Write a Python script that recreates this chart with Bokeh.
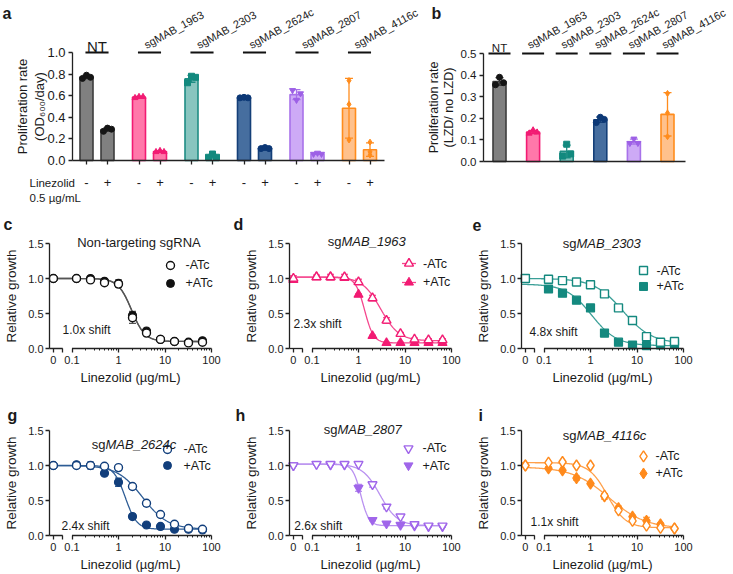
import numpy as np
from bokeh.plotting import figure
from bokeh.models import Range1d, FixedTicker, Label, Arrow, PrintfTickFormatter, LinearAxis
from bokeh.layouts import column, row
from bokeh.embed import file_html
from bokeh.resources import INLINE
from bokeh.core.properties import value

S = 1.0
FONT = "Liberation Sans"
AXC = "#222222"
TXC = "#1a1a1a"


def P(v):
    return int(round(v * S))


def F(v):
    return f"{v * S:.1f}px"


# ------------------------------------------------------------------ data (a, b)
genes = ["NT", "sgMAB_1963", "sgMAB_2303", "sgMAB_2624c", "sgMAB_2807", "sgMAB_4116c"]
lzd_labels = ["-", "+"]
rate_no_lzd = [[0.76, 0.79, 0.77], [0.58, 0.59, 0.59], [0.72, 0.78, 0.77],
               [0.58, 0.585, 0.58], [0.65, 0.56, 0.62], [0.74, 0.52, 0.19]]
rate_lzd = [[0.27, 0.30, 0.29], [0.08, 0.09, 0.08], [0.03, 0.06, 0.03],
            [0.11, 0.12, 0.11], [0.06, 0.07, 0.06], [0.17, 0.05, 0.08]]
rate_ratio = [[0.355, 0.39, 0.365], [0.13, 0.145, 0.135], [0.025, 0.08, 0.035],
              [0.18, 0.205, 0.195], [0.085, 0.105, 0.085], [0.315, 0.225, 0.115]]
a_yticks = [0.0, 0.2, 0.4, 0.6, 0.8, 1.0]
b_yticks = [0.0, 0.1, 0.2, 0.3, 0.4, 0.5]

# ------------------------------------------------------------------ data (c-i)
conc = [0, 0.125, 0.25, 0.5, 1, 2, 4, 8, 16, 32, 64]
x_tick_labels = ["0", "0.1", "1", "10", "100"]
dose_yticks = [0.0, 0.5, 1.0, 1.5]
legend_labels = ["-ATc", "+ATc"]

nt_minus = [1.00, 1.00, 0.98, 0.94, 0.92, 0.44, 0.22, 0.13, 0.10, 0.08, 0.09]
nt_minus_sd = [0.01, 0.01, 0.01, 0.01, 0.03, 0.08, 0.02, 0.01, 0.01, 0.01, 0.01]
nt_plus = [1.00, 1.00, 1.00, 0.96, 0.93, 0.47, 0.25, 0.13, 0.10, 0.09, 0.11]
nt_plus_sd = [0.01, 0.01, 0.01, 0.01, 0.05, 0.06, 0.02, 0.01, 0.01, 0.01, 0.01]
nt_fit_minus = [1.00, 0.10, 1.90, 3.0]
nt_fit_plus = [1.00, 0.10, 1.92, 3.0]

g1963_minus = [1.00, 1.02, 1.02, 1.02, 0.95, 0.72, 0.40, 0.21, 0.13, 0.12, 0.12]
g1963_minus_sd = [0.04, 0.03, 0.04, 0.04, 0.04, 0.04, 0.04, 0.02, 0.02, 0.02, 0.02]
g1963_plus = [0.98, 1.02, 1.02, 1.01, 0.77, 0.18, 0.08, 0.08, 0.08, 0.08, 0.08]
g1963_plus_sd = [0.02, 0.01, 0.01, 0.01, 0.01, 0.01, 0.01, 0.01, 0.01, 0.01, 0.01]
g1963_fit_minus = [1.02, 0.11, 3.0, 2.2]
g1963_fit_plus = [1.02, 0.08, 1.35, 4.5]

g2303_minus = [1.00, 0.99, 0.97, 0.95, 0.91, 0.78, 0.58, 0.40, 0.17, 0.09, 0.10]
g2303_minus_sd = [0.01, 0.01, 0.01, 0.01, 0.01, 0.01, 0.01, 0.01, 0.01, 0.01, 0.01]
g2303_plus = [1.00, 0.85, 0.79, 0.69, 0.58, 0.22, 0.09, 0.05, 0.04, 0.05, 0.07]
g2303_plus_sd = [0.01, 0.01, 0.01, 0.01, 0.01, 0.01, 0.01, 0.01, 0.01, 0.01, 0.01]
g2303_fit_minus = [1.00, 0.07, 5.0, 1.4]
g2303_fit_plus = [0.92, 0.04, 1.05, 1.6]

g2624_minus = [1.00, 1.00, 1.00, 0.99, 0.97, 0.70, 0.46, 0.30, 0.16, 0.10, 0.09]
g2624_minus_sd = [0.01, 0.01, 0.05, 0.01, 0.03, 0.04, 0.04, 0.01, 0.01, 0.01, 0.01]
g2624_plus = [1.00, 1.01, 1.00, 0.89, 0.76, 0.27, 0.15, 0.13, 0.09, 0.09, 0.08]
g2624_plus_sd = [0.01, 0.02, 0.02, 0.01, 0.06, 0.01, 0.01, 0.01, 0.01, 0.01, 0.01]
g2624_fit_minus = [1.00, 0.09, 3.3, 1.6]
g2624_fit_plus = [1.00, 0.09, 1.4, 3.5]

g2807_minus = [1.00, 1.02, 1.02, 1.02, 1.02, 0.73, 0.41, 0.27, 0.16, 0.14, 0.14]
g2807_minus_sd = [0.01, 0.01, 0.01, 0.01, 0.01, 0.04, 0.03, 0.01, 0.01, 0.01, 0.01]
g2807_plus = [1.00, 1.02, 1.01, 1.01, 0.68, 0.22, 0.17, 0.15, 0.14, 0.13, 0.13]
g2807_plus_sd = [0.01, 0.01, 0.01, 0.01, 0.05, 0.01, 0.01, 0.01, 0.01, 0.01, 0.01]
g2807_fit_minus = [1.02, 0.14, 2.9, 2.3]
g2807_fit_plus = [1.02, 0.14, 1.12, 5.0]

g4116_minus = [1.00, 1.04, 1.05, 1.00, 1.00, 0.57, 0.36, 0.21, 0.14, 0.11, 0.10]
g4116_minus_sd = [0.01, 0.01, 0.01, 0.01, 0.01, 0.03, 0.02, 0.01, 0.01, 0.01, 0.01]
g4116_plus = [1.00, 0.96, 0.93, 0.82, 0.74, 0.56, 0.39, 0.27, 0.21, 0.16, 0.10]
g4116_plus_sd = [0.01, 0.02, 0.01, 0.03, 0.01, 0.04, 0.03, 0.02, 0.05, 0.02, 0.02]
g4116_fit_minus = [1.04, 0.11, 2.3, 2.2]
g4116_fit_plus = [0.98, 0.10, 2.5, 1.1]

panel_titles = [("Non-targeting sgRNA", ""), ("sg", "MAB_1963"), ("sg", "MAB_2303"),
                ("sg", "MAB_2624c"), ("sg", "MAB_2807"), ("sg", "MAB_4116c")]
shift_labels = ["1.0x shift", "2.3x shift", "4.8x shift", "2.4x shift", "2.6x shift", "1.1x shift"]
panel_letters = ["c", "d", "e", "g", "h", "i"]

# ------------------------------------------------------------------ styles
bar_fill = ["#808080", "#ff78aa", "#88c5bf", "#466e9f", "#cdaaf6", "#ffc18c"]
bar_line = ["#3c3c3c", "#f21b73", "#1e8d84", "#143f78", "#a872ea", "#ff8c1c"]
pt_color = ["#151515", "#f21b73", "#12897e", "#0c3876", "#9d60e6", "#ff8c1c"]
pt_marker = ["circle", "triangle", "square", "circle", "inverted_triangle", "diamond"]
jitter_on = [1, 1, 1, 1, 1, 0]
ROT = 0.50


def make_fig(w, h, xr, yr):
    p = figure(width=P(w), height=P(h), x_range=Range1d(*xr), y_range=Range1d(*yr),
               x_axis_location=None, y_axis_location=None,
               output_backend="svg", toolbar_location=None, tools="")
    p.min_border = 0
    p.min_border_left = 0
    p.min_border_right = 0
    p.min_border_top = 0
    p.min_border_bottom = 0
    p.grid.visible = False
    p.outline_line_color = None
    p.background_fill_color = "white"
    p.border_fill_color = "white"
    return p


def add_axis(p, side, loc, bounds, ticks, tick_font, minor=None, fmt=None):
    ax = LinearAxis(fixed_location=loc, bounds=bounds)
    ax.ticker = FixedTicker(ticks=ticks, minor_ticks=minor or [])
    if fmt is not None:
        ax.formatter = PrintfTickFormatter(format=fmt)
    ax.axis_line_color = AXC
    ax.axis_line_width = 1.3 * S
    ax.major_tick_line_color = AXC
    ax.major_tick_line_width = 1.3 * S
    ax.minor_tick_line_color = AXC
    ax.minor_tick_line_width = 1.0 * S
    ax.major_tick_in = 0
    ax.major_tick_out = P(4)
    ax.minor_tick_in = 0
    ax.minor_tick_out = P(2.5)
    ax.major_label_text_font = FONT
    ax.major_label_text_font_size = tick_font
    ax.major_label_text_color = TXC
    ax.axis_label_text_font = FONT
    ax.axis_label_text_font_style = "normal"
    ax.axis_label_text_color = TXC
    p.add_layout(ax, side)
    return ax


def lab(p, x, y, text, size, **kw):
    p.add_layout(Label(x=x, y=y, text=text, text_font=FONT, text_font_size=F(size),
                       text_color=kw.pop("color", TXC), **kw))


def hline(p, x0, x1, y, color=AXC, width=1.3):
    p.add_layout(Arrow(end=None, x_start=x0, y_start=y, x_end=x1, y_end=y,
                       line_color=color, line_width=width * S))


def bars(p, xs, reps, i, unit, cap_px=4.0, jit_px=4.0, msize=6):
    m = float(np.mean(reps))
    sd = float(np.std(reps, ddof=1))
    cw = cap_px / unit
    p.vbar(x=[xs], top=[m], width=13.0 / unit, fill_color=bar_fill[i],
           line_color=bar_line[i], line_width=1.6 * S)
    p.segment(x0=[xs, xs - cw, xs - cw], y0=[m - sd, m + sd, m - sd],
              x1=[xs, xs + cw, xs + cw], y1=[m + sd, m + sd, m - sd],
              line_color=bar_line[i], line_width=1.3 * S)
    j = jit_px / unit * jitter_on[i]
    p.scatter(x=[xs - j, xs, xs + j], y=reps, marker=pt_marker[i], size=msize * S,
              fill_color=pt_color[i], line_color=pt_color[i])


# ------------------------------------------------------------------ panel a
UA = 21.0
GA = 2.5
xa_minus = [i * GA for i in range(6)]
xa_plus = [i * GA + 1.0 for i in range(6)]


def xa_px(px):
    return (px - 86.0) / UA


def ya_px(py):
    return (160.0 - py) / 108.0


WA = 426
pa = make_fig(WA, 212, (xa_px(0), xa_px(WA)), (ya_px(212), ya_px(0)))
ax = add_axis(pa, "below", 0.0, (xa_px(72), xa_px(384)), sorted(xa_minus + xa_plus), F(13))
ov = {x: lzd_labels[0] for x in xa_minus}
ov.update({x: lzd_labels[1] for x in xa_plus})
ax.major_label_overrides = ov
ax.major_label_standoff = P(13)
ay = add_axis(pa, "left", xa_px(72), (0.0, 1.0), a_yticks, F(13), fmt="%.1f")
ay.major_label_standoff = P(3)

for i in range(6):
    bars(pa, xa_minus[i], rate_no_lzd[i], i, UA)
    bars(pa, xa_plus[i], rate_lzd[i], i, UA)
    c = i * GA + 0.5
    hline(pa, c - 0.55, c + 0.55, 1.0, color="#111111", width=2.0)
    if i == 0:
        lab(pa, c, 1.0, genes[i], 15, y_offset=P(6), text_align="center", text_baseline="alphabetic")
    else:
        lab(pa, c - 0.22, 1.0, genes[i], 11, y_offset=P(7), angle=ROT,
            text_align="left", text_baseline="alphabetic")

lab(pa, xa_px(29), ya_px(182), "Linezolid", 11.5, text_align="left", text_baseline="alphabetic")
lab(pa, xa_px(29), ya_px(197), "0.5 \u00b5g/mL", 11.5, text_align="left", text_baseline="alphabetic")
lab(pa, xa_px(22), 0.5, "Proliferation rate", 13, angle=np.pi / 2, text_align="center", text_baseline="middle")
lab(pa, xa_px(38.5), 0.5, "(OD\u2086\u2080\u2080/day)", 13, angle=np.pi / 2, text_align="center", text_baseline="middle")
lab(pa, xa_px(2), ya_px(13), "a", 16, text_font_style="bold", text_align="left", text_baseline="alphabetic")

# ------------------------------------------------------------------ panel b
UB = 33.6


def xb_px(px):
    return (px - 499.0) / UB


def yb_px(py):
    return (161.0 - py) / 216.0


pb = make_fig(733 - WA, 212, (xb_px(WA), xb_px(733)), (yb_px(212), yb_px(0)))
bx = add_axis(pb, "below", 0.0, (xb_px(483), xb_px(685)), [], F(11.5))
by = add_axis(pb, "left", xb_px(483), (0.0, 0.5), b_yticks, F(11.5), fmt="%.1f")
by.major_label_standoff = P(3)

for i in range(6):
    bars(pb, float(i), rate_ratio[i], i, UB)
    hline(pb, i - 11 / UB, i + 11 / UB, 0.5, color="#111111", width=2.0)
    if i == 0:
        lab(pb, float(i), 0.5, genes[i], 11.5, y_offset=P(6), text_align="center", text_baseline="alphabetic")
    else:
        lab(pb, i - 5 / UB, 0.5, genes[i], 11, y_offset=P(8), angle=ROT,
            text_align="left", text_baseline="alphabetic")

lab(pb, xb_px(433), 0.25, "Proliferation rate", 12.5, angle=np.pi / 2, text_align="center", text_baseline="middle")
lab(pb, xb_px(448), 0.25, "(LZD/ no LZD)", 12.5, angle=np.pi / 2, text_align="center", text_baseline="middle")
lab(pb, xb_px(431), yb_px(13), "b", 16, text_font_style="bold", text_align="left", text_baseline="alphabetic")

# ------------------------------------------------------------------ dose panels
DEC = 46.5
YU = 70.0
X0 = -1.0 - 22.5 / DEC
ZERO_POS = -1.40
ZERO_END = -1.20
MINOR = [float(np.log10(k * 10.0 ** d)) for d in (-1, 0, 1) for k in range(2, 10)]


def four_pl(params, c):
    top, bot, ic50, hill = params
    return bot + (top - bot) / (1.0 + (c / ic50) ** hill)


dose_sets = [
    (nt_minus, nt_minus_sd, nt_plus, nt_plus_sd, nt_fit_minus, nt_fit_plus),
    (g1963_minus, g1963_minus_sd, g1963_plus, g1963_plus_sd, g1963_fit_minus, g1963_fit_plus),
    (g2303_minus, g2303_minus_sd, g2303_plus, g2303_plus_sd, g2303_fit_minus, g2303_fit_plus),
    (g2624_minus, g2624_minus_sd, g2624_plus, g2624_plus_sd, g2624_fit_minus, g2624_fit_plus),
    (g2807_minus, g2807_minus_sd, g2807_plus, g2807_plus_sd, g2807_fit_minus, g2807_fit_plus),
    (g4116_minus, g4116_minus_sd, g4116_plus, g4116_plus_sd, g4116_fit_minus, g4116_fit_plus),
]
dose_style = [
    dict(marker="circle", color="#111111", curve="#555555", size=8),
    dict(marker="triangle", color="#f21b73", curve="#f5468d", size=9),
    dict(marker="square", color="#14897f", curve="#3a9f97", size=8),
    dict(marker="circle", color="#123f7c", curve="#2d5c95", size=8),
    dict(marker="inverted_triangle", color="#a066ea", curve="#b991f0", size=9),
    dict(marker="diamond", color="#ff8a1c", curve="#ffa04a", size=11),
]
# canvas (w, h), axis offsets (left px, top px), letter dx px / y, title x / y, legend (x, y1, y2), gap px, line, shift (x, y)
dose_layout = [
    dict(size=(230, 181), off=(49, 31), ldx=46, ly=1.77, tx=0.441, ty=1.514, leg=(1.118, 1.186, 0.929), gap=15, line=False, sh=(-1.204, 0.27)),
    dict(size=(240, 181), off=(59, 31), ldx=56, ly=1.77, tx=-0.366, ty=1.529, leg=(1.086, 1.214, 0.943), gap=14, line=True, sh=(-1.398, 0.35)),
    dict(size=(263, 181), off=(51, 31), ldx=49, ly=1.77, tx=-0.301, ty=1.500, leg=(1.140, 1.114, 0.886), gap=13, line=False, sh=(-1.312, 0.24)),
    dict(size=(230, 180), off=(49, 37), ldx=42, ly=1.714, tx=-0.280, ty=1.300, leg=(1.054, 1.229, 1.000), gap=16, line=False, sh=(-1.226, 0.14)),
    dict(size=(240, 180), off=(59, 37), ldx=54, ly=1.714, tx=-0.452, ty=1.514, leg=(1.075, 1.243, 1.000), gap=14, line=False, sh=(-1.380, 0.14)),
    dict(size=(263, 180), off=(51, 37), ldx=43, ly=1.714, tx=-0.301, ty=1.429, leg=(1.140, 1.129, 0.886), gap=12, line=False, sh=(-1.290, 0.19)),
]


def dose_panel(k):
    minus, minus_sd, plus, plus_sd, fit_m, fit_p = dose_sets[k]
    st = dose_style[k]
    lay = dose_layout[k]
    w, h = lay["size"]
    lo, to = lay["off"]
    xr = (X0 - lo / DEC, X0 + (w - lo) / DEC)
    yr = (1.5 - (h - to) / YU, 1.5 + to / YU)
    p = make_fig(w, h, xr, yr)

    xa = add_axis(p, "below", 0.0, (X0, 2.0), [ZERO_POS, ZERO_END, -1, 0, 1, 2], F(11), minor=MINOR)
    xa.major_label_overrides = {ZERO_POS: x_tick_labels[0], ZERO_END: "", -1: x_tick_labels[1],
                                0: x_tick_labels[2], 1: x_tick_labels[3], 2: x_tick_labels[4]}
    xa.axis_line_color = None
    xa.axis_label = "Linezolid (\u00b5g/mL)"
    xa.axis_label_text_font_size = F(13)
    xa.major_label_standoff = P(3)
    xa.axis_label_standoff = P(3)
    ya = add_axis(p, "left", X0, (0.0, 1.5), dose_yticks, F(11), fmt="%.1f")
    ya.axis_label = "Relative growth"
    ya.axis_label_text_font_size = F(13.5)
    ya.major_label_standoff = P(2)
    ya.axis_label_standoff = P(6)
    hline(p, X0, ZERO_END, 0.0)
    hline(p, -1.0, 2.0, 0.0)

    xpos = [ZERO_POS if c == 0 else float(np.log10(c)) for c in conc]
    xc = np.linspace(X0 + 0.01, np.log10(conc[-1]), 300)
    cc = 10.0 ** xc
    for fit in (fit_m, fit_p):
        p.line(xc, four_pl(fit, cc), line_color=st["curve"], line_width=1.3 * S)
    cw = 3.5 / DEC
    for ys, sds in ((minus, minus_sd), (plus, plus_sd)):
        y0 = [y - s for y, s in zip(ys, sds)]
        y1 = [y + s for y, s in zip(ys, sds)]
        p.segment(x0=xpos, y0=y0, x1=xpos, y1=y1, line_color=st["curve"], line_width=1.2 * S)
        p.segment(x0=[x - cw for x in xpos], y0=y1, x1=[x + cw for x in xpos], y1=y1,
                  line_color=st["curve"], line_width=1.2 * S)
        p.segment(x0=[x - cw for x in xpos], y0=y0, x1=[x + cw for x in xpos], y1=y0,
                  line_color=st["curve"], line_width=1.2 * S)
    p.scatter(xpos, plus, marker=st["marker"], size=st["size"] * S, fill_color=st["color"],
              line_color=st["color"], line_width=1.2 * S)
    p.scatter(xpos, minus, marker=st["marker"], size=st["size"] * S, fill_color="white",
              line_color=st["color"], line_width=1.4 * S)

    lx, ly1, ly2 = lay["leg"]
    if lay["line"]:
        p.segment(x0=[lx - 7 / DEC] * 2, y0=[ly1, ly2], x1=[lx + 7 / DEC] * 2, y1=[ly1, ly2],
                  line_color=st["curve"], line_width=1.3 * S)
    p.scatter([lx], [ly1], marker=st["marker"], size=st["size"] * S, fill_color="white",
              line_color=st["color"], line_width=1.4 * S)
    p.scatter([lx], [ly2], marker=st["marker"], size=st["size"] * S, fill_color=st["color"],
              line_color=st["color"])
    p.text(x=[lx + lay["gap"] / DEC] * 2, y=[ly1, ly2], text=legend_labels,
           text_font=value(FONT), text_font_size=value(F(12.5)), text_color=TXC,
           text_align="left", text_baseline="middle")
    sx, sy = lay["sh"]
    p.text(x=[sx], y=[sy], text=[shift_labels[k]], text_font=value(FONT), text_font_size=value(F(12)),
           text_color=TXC, text_align="left", text_baseline="middle")
    t1, t2 = panel_titles[k]
    if t2 == "":
        lab(p, lay["tx"], lay["ty"], t1, 13, text_align="center", text_baseline="alphabetic")
    else:
        lab(p, lay["tx"], lay["ty"], t1, 13, text_align="right", text_baseline="alphabetic")
        lab(p, lay["tx"], lay["ty"], t2, 13, text_align="left", text_baseline="alphabetic",
            text_font_style="italic")
    lab(p, X0 - lay["ldx"] / DEC, lay["ly"], panel_letters[k], 16, text_font_style="bold",
        text_align="left", text_baseline="alphabetic")
    return p


dose_figs = [dose_panel(k) for k in range(6)]

layout = column(row(pa, pb), row(*dose_figs[:3]), row(*dose_figs[3:]))
open("out.html", "w").write(file_html(layout, INLINE))
